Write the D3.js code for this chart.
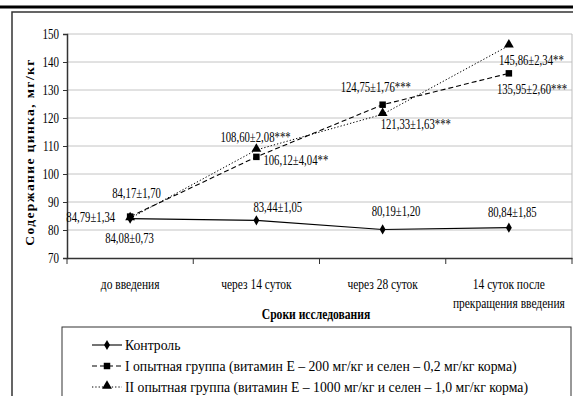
<!DOCTYPE html>
<html>
<head>
<meta charset="utf-8">
<script src="https://cdn.jsdelivr.net/npm/d3@7"></script>
<style>
  body { margin: 0; background: #fff; }
  svg { display: block; }
</style>
</head>
<body>
<div id="chart"></div>
<script>
// --- DATA ---
const categories = ["до введения", "через 14 суток", "через 28 суток", "14 суток после|прекращения введения"];
const seriesNames = [
    "Контроль",
    "I опытная группа (витамин Е – 200 мг/кг и селен – 0,2 мг/кг корма)",
    "II опытная группа (витамин Е – 1000 мг/кг и селен – 1,0 мг/кг корма)"
];
const controlValues = [84.08, 83.44, 80.19, 80.84];
const controlErrors = [0.73, 1.05, 1.20, 1.85];
const controlSig = ["", "", "", ""];
const group1Values = [84.79, 106.12, 124.75, 135.95];
const group1Errors = [1.34, 4.04, 1.76, 2.60];
const group1Sig = ["", "**", "***", "***"];
const group2Values = [84.17, 108.60, 121.33, 145.86];
const group2Errors = [1.70, 2.08, 1.63, 2.34];
const group2Sig = ["", "***", "***", "**"];
const yTicks = [70, 80, 90, 100, 110, 120, 130, 140, 150];

// label placement (dx, dy, anchor) per point
const controlLabelPos = [[-25, 24, "start"], [-3, -8, "start"], [-11, -13, "start"], [-21, -11, "start"]];
const group1LabelPos = [[-15, 5, "end"], [7, 8, "start"], [-42, -13, "start"], [-12, 21, "start"]];
const group2LabelPos = [[-18, -20, "start"], [-36, -8, "start"], [-2, 15, "start"], [-10, 19, "start"]];

const series = [
    {name: seriesNames[0], values: controlValues, errors: controlErrors, sig: controlSig, pos: controlLabelPos, dash: null, width: 1.1, marker: "diamond"},
    {name: seriesNames[1], values: group1Values, errors: group1Errors, sig: group1Sig, pos: group1LabelPos, dash: "5,3", width: 1.1, marker: "square"},
    {name: seriesNames[2], values: group2Values, errors: group2Errors, sig: group2Sig, pos: group2LabelPos, dash: "1.3,2", width: 1, marker: "triangle"}
];

// --- SETUP ---
const W = 573, H = 396;
const svg = d3.select("#chart").append("svg")
    .attr("width", W).attr("height", H)
    .attr("font-family", "Liberation Serif");

const fmt = v => v.toFixed(2).replace(".", ",");

// condensed serif text, like the scanned original
function label(g, x, y, str, size, sx, anchor, bold) {
    return g.append("text")
        .attr("transform", `translate(${x},${y}) scale(${sx},1)`)
        .attr("text-anchor", anchor || "middle")
        .attr("font-family", "Liberation Serif")
        .attr("font-size", size)
        .attr("font-weight", bold ? "bold" : null)
        .attr("fill", "#000")
        .text(str);
}

// frame
svg.append("line").attr("x1", 0).attr("x2", W).attr("y1", 7).attr("y2", 7)
    .attr("stroke", "#000").attr("stroke-width", 3);
svg.append("path").attr("d", `M12,${H} V12 H${W}`)
    .attr("fill", "none").attr("stroke", "#333").attr("stroke-width", 1.5);

const x = d3.scaleBand().domain(categories).range([67, 572]);
const y = d3.scaleLinear().domain([70, 150]).range([258, 34]);
const cx = c => x(c) + x.bandwidth() / 2;

// grid
svg.append("g").selectAll("line").data(yTicks.slice(1)).join("line")
    .attr("x1", 67).attr("x2", 572)
    .attr("y1", d => y(d)).attr("y2", d => y(d))
    .attr("stroke", "#c4c4c4").attr("stroke-width", 1);
svg.append("line").attr("x1", 572).attr("x2", 572).attr("y1", y(150)).attr("y2", y(70))
    .attr("stroke", "#bdbdbd");

// axes
const yAxis = svg.append("g").attr("transform", "translate(67,0)")
    .call(d3.axisLeft(y).tickValues(yTicks).tickSize(4).tickFormat(""));
yAxis.select(".domain").attr("stroke", "#333").attr("stroke-width", 1.5);
yAxis.selectAll(".tick line").attr("stroke", "#333");
yTicks.forEach(t => label(svg, 59, y(t) + 5, String(t), 14.5, 0.76, "end"));

const xAxis = svg.append("g").attr("transform", "translate(0,258)")
    .call(d3.axisBottom(x).tickSize(0).tickFormat(""));
xAxis.select(".domain").attr("stroke", "#333").attr("stroke-width", 1.5);
svg.append("g").selectAll("line").data(categories).join("line")
    .attr("x1", d => x(d)).attr("x2", d => x(d))
    .attr("y1", 258).attr("y2", 264)
    .attr("stroke", "#333");
svg.append("line").attr("x1", 572).attr("x2", 572).attr("y1", 258).attr("y2", 264).attr("stroke", "#333");

categories.forEach(c => {
    const parts = c.split("|");
    parts.forEach((p, i) => label(svg, cx(c), 289 + i * 19, p, 14, 0.82, "middle"));
});

label(svg, 316, 319, "Сроки исследования", 14.5, 0.8, "middle", true);
svg.append("text")
    .attr("transform", "translate(34,152) rotate(-90)")
    .attr("text-anchor", "middle")
    .attr("font-family", "Liberation Serif")
    .attr("font-size", 13.5)
    .attr("font-weight", "bold")
    .attr("letter-spacing", 1.4)
    .text("Содержание цинка, мг/кг");

// --- LINES & MARKERS ---
function drawMarker(g, type, px, py) {
    if (type === "diamond") {
        g.append("path").attr("d", d3.symbol(d3.symbolDiamond, 30)()).attr("transform", `translate(${px},${py})`);
    } else if (type === "square") {
        g.append("path").attr("d", d3.symbol(d3.symbolSquare, 42)()).attr("transform", `translate(${px},${py})`);
    } else {
        g.append("path").attr("d", d3.symbol(d3.symbolTriangle, 42)()).attr("transform", `translate(${px},${py - 1})`);
    }
}

const line = d3.line().x((d, i) => cx(categories[i])).y(d => y(d));

series.slice().reverse().forEach(s => {
    svg.append("path").datum(s.values)
        .attr("d", line)
        .attr("fill", "none")
        .attr("stroke", "#000")
        .attr("stroke-width", s.width)
        .attr("stroke-dasharray", s.dash);
    const mg = svg.append("g").attr("fill", "#000");
    s.values.forEach((v, i) => drawMarker(mg, s.marker, cx(categories[i]), y(v)));
});

series.forEach(s => {
    s.values.forEach((v, i) => {
        const [dx, dy, anchor] = s.pos[i];
        label(svg, cx(categories[i]) + dx, y(v) + dy,
            `${fmt(v)}±${fmt(s.errors[i])}${s.sig[i]}`, 14.5, 0.74, anchor);
    });
});

// --- LEGEND ---
svg.append("rect").attr("x", 62).attr("y", 327).attr("width", 509).attr("height", 80)
    .attr("fill", "none").attr("stroke", "#333").attr("stroke-width", 1);

series.forEach((s, i) => {
    const ly = 345 + i * 21;
    const lg = svg.append("g").attr("fill", "#000");
    lg.append("line").attr("x1", 92).attr("x2", 122).attr("y1", ly).attr("y2", ly)
        .attr("stroke", "#000").attr("stroke-width", s.width).attr("stroke-dasharray", s.dash);
    drawMarker(lg, s.marker, 107, ly);
    label(svg, 125, ly + 4.5, s.name, 14, 0.98, "start");
});
</script>
</body>
</html>
